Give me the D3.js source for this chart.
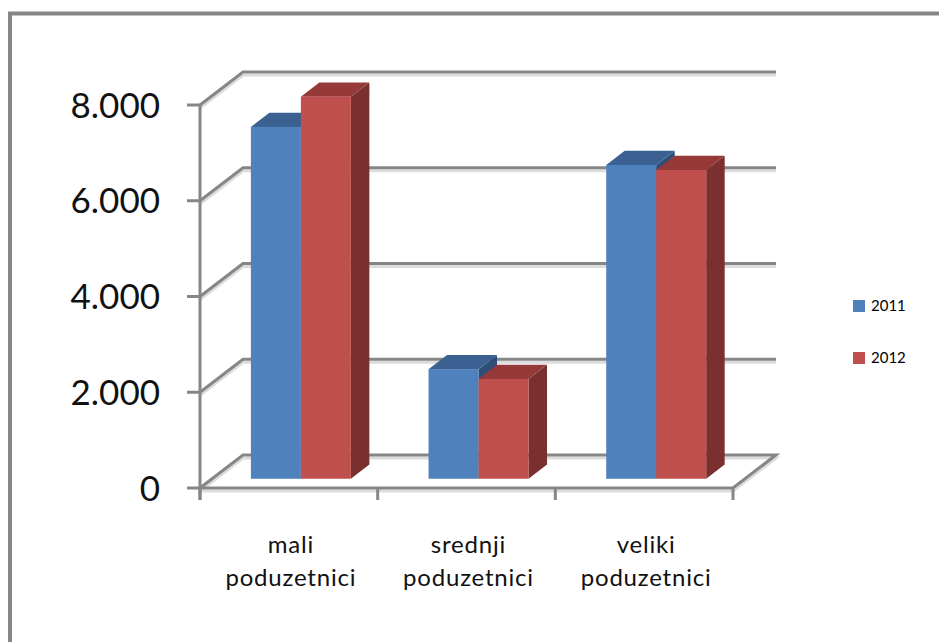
<!DOCTYPE html>
<html>
<head>
<meta charset="utf-8">
<script src="https://cdn.jsdelivr.net/npm/d3@7"></script>
<style>
  body { margin: 0; background: #fff; }
  svg { display: block; }
  text { font-family: Lato, "Liberation Sans", sans-serif; fill: #000; }
</style>
</head>
<body>
<div class="visualisation"></div>
<script>
// data
var categories = [["mali", "poduzetnici"], ["srednji", "poduzetnici"], ["veliki", "poduzetnici"]];
var series = ["2011", "2012"];
var values2011 = [7350, 2290, 6555];
var values2012 = [7980, 2085, 6450];
var yTicks = [0, 2000, 4000, 6000, 8000];
var tickLabels = ["0", "2.000", "4.000", "6.000", "8.000"];

var width = 939, height = 642;

var svg = d3.select(".visualisation").append("svg")
    .attr("width", width)
    .attr("height", height);

// chart border (only top and left visible)
svg.append("path")
    .attr("d", "M10," + height + " V13.5 H" + width)
    .attr("fill", "none")
    .attr("stroke", "#878787")
    .attr("stroke-width", 4);

// front plane scales
var x0 = d3.scaleBand()
    .domain(d3.range(categories.length))
    .range([200, 733]);

var x1 = d3.scaleBand()
    .domain(series)
    .range([0, x0.bandwidth()])
    .paddingInner(0)
    .paddingOuter(0.777);

var y = d3.scaleLinear().domain([0, 8000]).range([488, 105]);

// depth offset of the 3d box
var depthX = 43, depthY = -33;
function px(x, d) { return x + depthX * d; }
function py(yv, d) { return yv + depthY * d; }

var grid = svg.append("g");
var gridColor = "#868686", shadowColor = "#dcdcdc";
var line = d3.line();

// walls: back wall gridlines + left wall diagonals (floor is closed in front)
yTicks.forEach(function(t) {
  var yf = y(t);
  var pts = [[200, yf], [px(200, 1), py(yf, 1)], [px(733, 1), py(yf, 1)]];
  if (t === 0) pts.push([733, yf], [200, yf]);
  grid.append("path")
      .attr("d", line(pts.map(p => [p[0], p[1] + 3])))
      .attr("fill", "none").attr("stroke", shadowColor).attr("stroke-width", 3);
  grid.append("path")
      .attr("d", line(pts))
      .attr("fill", "none").attr("stroke", gridColor).attr("stroke-width", 3);
});

// vertical axis
grid.append("line")
    .attr("x1", 200).attr("x2", 200)
    .attr("y1", y(8000)).attr("y2", y(0) + 12)
    .attr("stroke", gridColor).attr("stroke-width", 3);

// y ticks
yTicks.forEach(function(t, i) {
  grid.append("line")
      .attr("x1", 187).attr("x2", 200)
      .attr("y1", y(t)).attr("y2", y(t))
      .attr("stroke", gridColor).attr("stroke-width", 3);
  svg.append("text")
      .attr("x", 160)
      .attr("y", y(t))
      .attr("dy", "0.36em")
      .attr("text-anchor", "end")
      .style("font-size", "35px")
      .style("fill", "#111")
      .text(tickLabels[i]);
});

// category ticks
d3.range(categories.length + 1).forEach(function(i) {
  var xv = i < categories.length ? x0(i) : x0.range()[1];
  grid.append("line")
      .attr("x1", xv).attr("x2", xv)
      .attr("y1", y(0)).attr("y2", y(0) + 12)
      .attr("stroke", gridColor).attr("stroke-width", 3);
});

// bars
var colors = {
  "2011": {front: "#4f81bd", top: "#3a6191", side: "#2f4f78"},
  "2012": {front: "#c0504d", top: "#953a38", side: "#7a302e"}
};
var d0 = 0.28, d1 = 0.71;
var barContainer = svg.append("g");

categories.forEach(function(c, i) {
  var vals = [values2011[i], values2012[i]];
  series.forEach(function(s, j) {
    var xa = x0(i) + x1(s), xb = xa + x1.bandwidth();
    var yt = y(vals[j]), yb = y(0);
    var col = colors[s];
    var g = barContainer.append("g");
    // side face
    g.append("polygon")
        .attr("points", [[px(xb, d0), py(yt, d0)], [px(xb, d1), py(yt, d1)],
                         [px(xb, d1), py(yb, d1)], [px(xb, d0), py(yb, d0)]].join(" "))
        .attr("fill", col.side);
    // top face
    g.append("polygon")
        .attr("points", [[px(xa, d0), py(yt, d0)], [px(xa, d1), py(yt, d1)],
                         [px(xb, d1), py(yt, d1)], [px(xb, d0), py(yt, d0)]].join(" "))
        .attr("fill", col.top);
    // front face
    g.append("rect")
        .attr("x", px(xa, d0))
        .attr("y", py(yt, d0))
        .attr("width", xb - xa)
        .attr("height", yb - yt)
        .attr("fill", col.front);
  });
});

// category labels
categories.forEach(function(c, i) {
  var cx = x0(i) + x0.bandwidth() / 2 + 2;
  var t = svg.append("text")
      .attr("x", cx)
      .attr("y", 553)
      .attr("text-anchor", "middle")
      .style("font-size", "24px")
      .style("letter-spacing", "0.8px")
      .style("fill", "#111");
  c.forEach(function(txt, k) {
    t.append("tspan")
        .attr("x", cx)
        .attr("dy", k === 0 ? 0 : 33)
        .text(txt);
  });
});

// legend
var legend = svg.append("g").attr("transform", "translate(853,300)");
series.forEach(function(s, j) {
  legend.append("rect")
      .attr("x", 0).attr("y", j * 52)
      .attr("width", 12).attr("height", 12)
      .attr("fill", colors[s].front);
  legend.append("text")
      .attr("x", 18).attr("y", j * 52 + 6)
      .attr("dy", "0.36em")
      .style("font-size", "15px")
      .text(s);
});
</script>
</body>
</html>
